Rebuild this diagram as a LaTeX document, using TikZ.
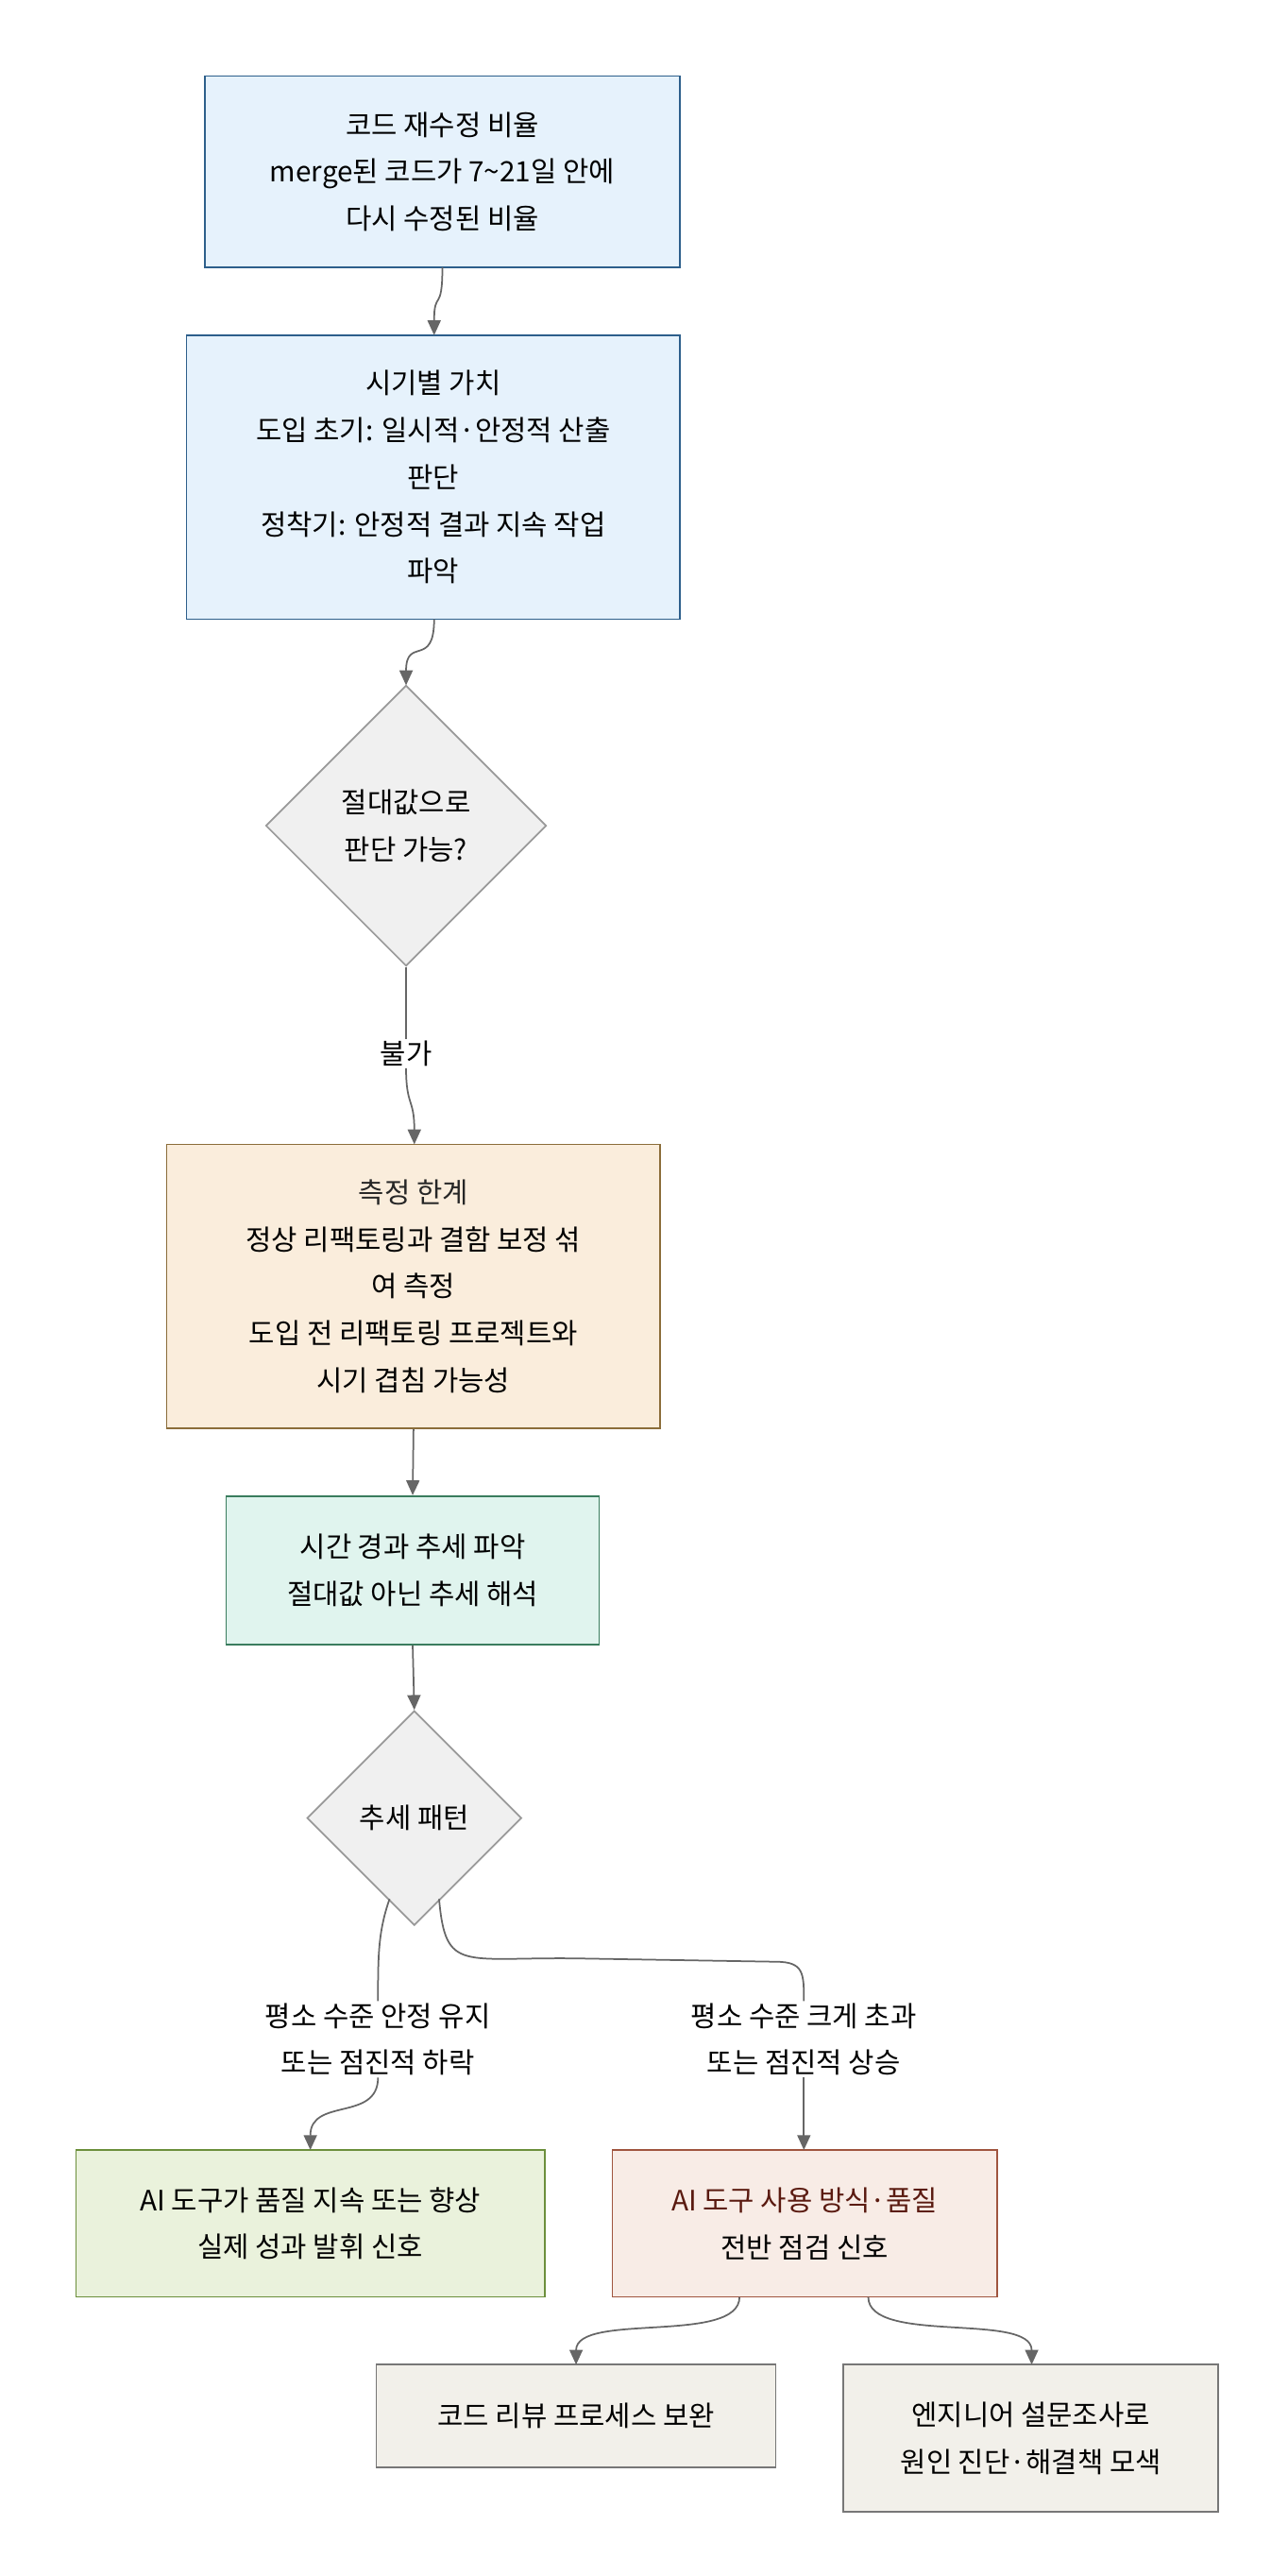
\documentclass[tikz,border=0pt]{standalone}
\usepackage{fontspec}
\setmainfont{Noto Sans CJK KR}
\usetikzlibrary{shapes.geometric,arrows.meta}
\definecolor{bfill}{HTML}{E6F2FC}\definecolor{bline}{HTML}{2D5F8B}
\definecolor{ofill}{HTML}{FAEDDC}\definecolor{oline}{HTML}{8B6D3A}
\definecolor{gfill}{HTML}{E0F4EE}\definecolor{gline}{HTML}{3A7D5E}
\definecolor{lfill}{HTML}{EAF2DC}\definecolor{lline}{HTML}{6C8F3C}
\definecolor{rfill}{HTML}{F8ECE6}\definecolor{rline}{HTML}{A0553F}
\definecolor{rtext}{HTML}{5A1A10}
\definecolor{nfill}{HTML}{F2F0EA}\definecolor{nline}{HTML}{777777}
\definecolor{dfill}{HTML}{F0F0F0}\definecolor{dline}{HTML}{999999}
\definecolor{aline}{HTML}{666666}
\tikzset{
 x=1pt,y=-1pt,
 box/.style={draw=#1,line width=1pt,align=center,inner sep=0pt,font=\fontsize{17}{28.5}\selectfont},
 dia/.style={diamond,draw=dline,fill=dfill,line width=1pt,minimum width=#1,minimum height=#1,aspect=1,inner sep=0pt,align=center,font=\fontsize{17}{28.5}\selectfont},
 arr/.style={draw=aline,line width=1pt,-{Triangle[length=9pt,width=8pt]}},
 lab/.style={align=center,fill=white,inner sep=1pt,font=\fontsize{17}{28.5}\selectfont}
}
\newcommand{\bx}[7]{\node[box=#6,fill=#5,minimum width=#3-#1,minimum height=#4-#2] (#7) at ({(#1+#3)/2},{(#2+#4)/2})}
\begin{document}
\begin{tikzpicture}
\useasboundingbox (0,0) rectangle (780,1560);
\bx{124}{46}{412}{162}{bfill}{bline}{b1} {코드 재수정 비율\\merge된 코드가 7\textasciitilde21일 안에\\다시 수정된 비율};
\bx{113}{203}{412}{375}{bfill}{bline}{b2} {시기별 가치\\도입 초기: 일시적·안정적 산출\\판단\\정착기: 안정적 결과 지속 작업\\파악};
\node[dia=170] (d1) at (246,500) {절대값으로\\판단 가능?};
\bx{101}{693}{400}{865}{ofill}{oline}{b3} {\color{black!85}측정 한계\\정상 리팩토링과 결함 보정 섞\\여 측정\\도입 전 리팩토링 프로젝트와\\시기 겹침 가능성};
\bx{137}{906}{363}{996}{gfill}{gline}{b4} {시간 경과 추세 파악\\절대값 아닌 추세 해석};
\node[dia=130] (d2) at (251,1101) {추세 패턴};
\bx{46}{1302}{330}{1391}{lfill}{lline}{b5} {AI 도구가 품질 지속 또는 향상\\실제 성과 발휘 신호};
\bx{371}{1302}{604}{1391}{rfill}{rline}{b6} {\color{rtext}AI 도구 사용 방식·품질\\전반 점검 신호};
\bx{228}{1432}{470}{1494}{nfill}{nline}{b7} {코드 리뷰 프로세스 보완};
\bx{511}{1432}{738}{1521}{nfill}{nline}{b8} {엔지니어 설문조사로\\원인 진단·해결책 모색};
\coordinate (c1) at (268,162); \coordinate (c2) at (263,203);
\draw[arr] (c1) .. controls (268,190) and (263,175) .. (c2);
\coordinate (c3) at (263,375); \coordinate (c4) at (246,415);
\draw[arr] (c3) .. controls (263,405) and (246,385) .. (c4);
\node[lab] (l1) at (246,638) {불가};
\draw[draw=aline,line width=1pt] (d1.south) -- (l1.north);
\coordinate (c5) at (251,693);
\draw[arr] (l1.south) .. controls (246,670) and (251,665) .. (c5);
\draw[arr] (b3.south) -- (b4.north);
\draw[arr] (b4.south) -- (d2.north);
\node[lab] (l2) at (229,1235) {평소 수준 안정 유지\\또는 점진적 하락};
\node[lab] (l3) at (487,1235) {평소 수준 크게 초과\\또는 점진적 상승};
\coordinate (c6) at (236,1150); \coordinate (c7) at (266,1150);
\draw[draw=aline,line width=1pt] (c6) .. controls (229,1170) and (229,1185) .. (l2.north);
\coordinate (c8) at (188,1302);
\draw[arr] (l2.south) .. controls (229,1285) and (188,1270) .. (c8);
\draw[draw=aline,line width=1pt] (c7) .. controls (270,1195) and (280,1185) .. (350,1186) -- (470,1188) .. controls (487,1188) and (487,1195) .. (l3.north);
\draw[arr] (l3.south) -- (487,1302);
\coordinate (c9) at (448,1391); \coordinate (c10) at (526,1391);
\draw[arr] (c9) .. controls (448,1420) and (349,1400) .. (349,1432);
\draw[arr] (c10) .. controls (526,1420) and (625,1400) .. (625,1432);
\end{tikzpicture}
\end{document}
